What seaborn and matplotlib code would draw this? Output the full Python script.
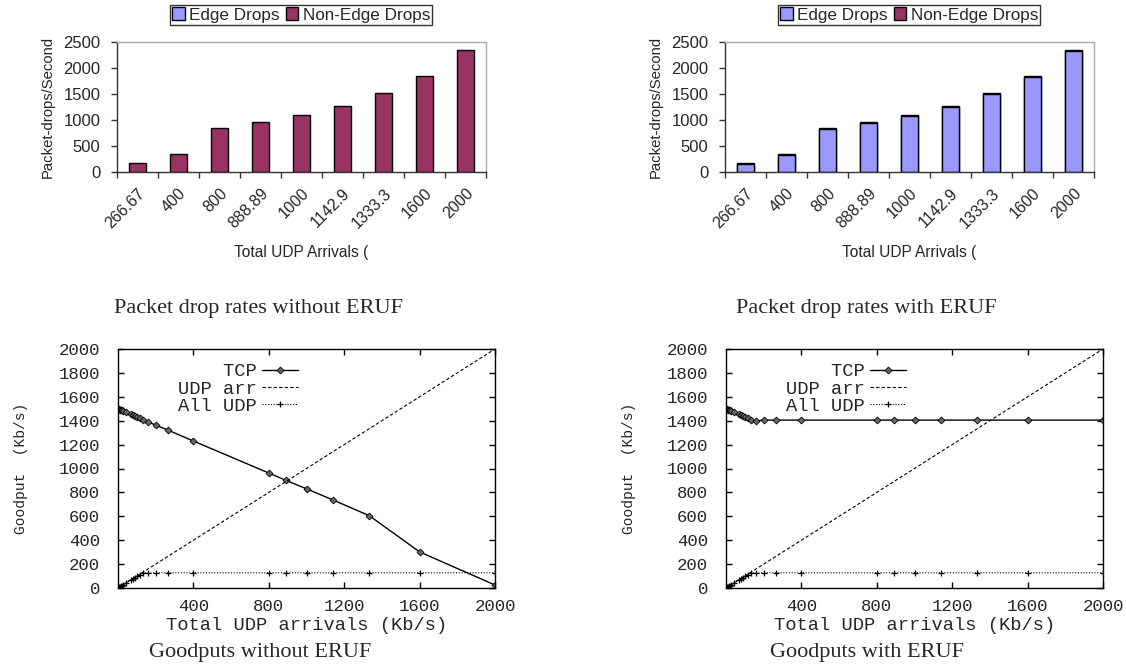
import seaborn as sns
import matplotlib.pyplot as plt
from matplotlib.patches import Patch

# bar chart data (packet drops / second)
categories = ["266.67", "400", "800", "888.89", "1000", "1142.9", "1333.3", "1600", "2000"]
edge_without = [0, 0, 0, 0, 0, 0, 0, 0, 0]
nonedge_without = [179, 346, 853, 962, 1096, 1276, 1513, 1846, 2350]
edge_with = [158, 322, 830, 945, 1075, 1255, 1495, 1822, 2328]
nonedge_with = [20, 22, 22, 14, 20, 20, 16, 22, 22]

# goodput data (Kb/s)
udp_x = [2, 5, 10, 13.33, 20, 26.67, 40, 66.67, 80, 88.89, 100, 114.29, 133.33, 160,
         200, 266.67, 400, 800, 888.89, 1000, 1142.9, 1333.3, 1600, 2000]
tcp_without = [1497, 1495, 1492, 1490, 1486, 1481, 1472, 1454, 1445, 1439, 1431, 1421, 1408, 1390,
               1363, 1320, 1230, 962, 902, 830, 735, 605, 302, 25]
tcp_with = [1497, 1495, 1492, 1490, 1486, 1481, 1472, 1454, 1445, 1439, 1431, 1421, 1408, 1398,
            1405, 1405, 1405, 1405, 1405, 1405, 1405, 1405, 1405, 1405]
all_udp = [2, 5, 10, 13, 19, 26, 39, 65, 78, 87, 98, 112, 126, 127,
           127, 127, 127, 127, 127, 127, 127, 127, 127, 127]
arr_x = [0, 2000]
arr_y = [0, 2000]

sns.set_style('white')
plt.rcParams['font.family'] = ['Liberation Sans', 'DejaVu Sans']

EDGE_C = '#9999FF'
NONEDGE_C = '#993366'

fig = plt.figure(figsize=(11.26, 6.70), dpi=100)

def bar_panel(left, edge, nonedge, caption, cx):
    ax = fig.add_axes([left, 1 - 172 / 670, 369 / 1126, 130 / 670])
    totals = [e + n for e, n in zip(edge, nonedge)]
    sns.barplot(x=categories, y=totals, color=NONEDGE_C, saturation=1, width=0.4,
                edgecolor='black', linewidth=1, ax=ax)
    if sum(edge) > 0:
        sns.barplot(x=categories, y=edge, color=EDGE_C, saturation=1, width=0.4,
                    edgecolor='black', linewidth=1, ax=ax)
    ax.set_xlim(-0.5, len(categories) - 0.5)
    ax.set_ylim(0, 2500)
    ax.set_yticks(range(0, 2501, 500))
    ax.set_xticks(range(len(categories)))
    ax.set_xticklabels(categories, rotation=45, ha='right', rotation_mode='anchor', fontsize=11.5)
    ax.set_xticks([i - 0.5 for i in range(len(categories) + 1)], minor=True)
    ax.tick_params(axis='x', which='major', length=0, pad=10)
    ax.tick_params(axis='x', which='minor', length=4, direction='out', width=1, color='#333333', bottom=True)
    ax.tick_params(axis='y', length=4, direction='out', width=1, color='#333333', left=True,
                   labelsize=12, pad=8)
    for s in ['left', 'bottom']:
        ax.spines[s].set_color('#333333')
        ax.spines[s].set_linewidth(1)
    for s in ['top', 'right']:
        ax.spines[s].set_color('#aaaaaa')
        ax.spines[s].set_linewidth(1)
    ax.set_ylabel('Packet-drops/Second', fontsize=10.7, labelpad=6)
    ax.set_xlabel('Total UDP Arrivals (', fontsize=11.2, labelpad=10)
    handles = [Patch(facecolor=EDGE_C, edgecolor='black', label='Edge Drops'),
               Patch(facecolor=NONEDGE_C, edgecolor='black', label='Non-Edge Drops')]
    fig.legend(handles=handles, loc='center', bbox_to_anchor=(cx / 1126, 1 - 15 / 670), ncol=2,
               fontsize=12.3, frameon=True, fancybox=False, edgecolor='black', handlelength=0.75,
               handleheight=0.75, handletextpad=0.25, columnspacing=0.35, borderpad=0.12,
               borderaxespad=0)
    fig.text(caption[1] / 1126, 1 - 308 / 670, caption[0], family='Liberation Serif',
             fontsize=16, ha='center', va='center')
    return ax

bar_panel(117 / 1126, edge_without, nonedge_without, ('Packet drop rates without ERUF', 259), 301)
bar_panel(725 / 1126, edge_with, nonedge_with, ('Packet drop rates with ERUF', 866), 909)

MONO = 'Liberation Mono'

def goodput_panel(left, tcp, caption):
    ax = fig.add_axes([left, 1 - 588 / 670, 377 / 1126, 239 / 670])
    sns.lineplot(x=udp_x, y=tcp, ax=ax, color='black', linewidth=1, marker='D', markersize=3.5,
                 markerfacecolor='#666666', markeredgecolor='black', markeredgewidth=0.6,
                 estimator=None, sort=False, label='    TCP')
    sns.lineplot(x=arr_x, y=arr_y, ax=ax, color='black', linewidth=0.8, linestyle=(0, (3, 2)),
                 estimator=None, label='UDP arr')
    sns.lineplot(x=udp_x, y=all_udp, ax=ax, color='black', linewidth=0.8, linestyle=(0, (1, 1.5)),
                 marker='+', markersize=5, markeredgewidth=0.9, markeredgecolor='black',
                 estimator=None, sort=False, label='All UDP')
    ax.set_xlim(0, 2000)
    ax.set_ylim(0, 2000)
    ax.set_xticks([400, 800, 1200, 1600, 2000])
    ax.set_yticks(range(0, 2001, 200))
    for lbl in ax.get_xticklabels() + ax.get_yticklabels():
        lbl.set_family(MONO)
        lbl.set_fontsize(12.5)
    ax.tick_params(which='both', direction='in', length=4, width=1, color='black',
                   top=True, right=True, bottom=True, left=True)
    ax.tick_params(axis='y', pad=13)
    ax.tick_params(axis='x', pad=8)
    for s in ax.spines.values():
        s.set_color('black')
        s.set_linewidth(1)
    ax.set_xlabel('Total UDP arrivals (Kb/s)', family=MONO, fontsize=13.5, labelpad=2)
    ax.set_ylabel('Goodput  (Kb/s)', family=MONO, fontsize=10.5, labelpad=22)
    ax.legend(loc='upper right', bbox_to_anchor=(0.477, 0.94), frameon=False, markerfirst=False,
              prop={'family': MONO, 'size': 13.5}, handlelength=1.9, handletextpad=0.3,
              labelspacing=0.0, borderaxespad=0, borderpad=0)
    fig.text(caption[1] / 1126, 1 - 652 / 670, caption[0], family='Liberation Serif',
             fontsize=16, ha='center', va='center')
    return ax

goodput_panel(118 / 1126, tcp_without, ('Goodputs without ERUF', 260))
goodput_panel(726 / 1126, tcp_with, ('Goodputs with ERUF', 867))

fig.savefig('out.png', dpi=100)
